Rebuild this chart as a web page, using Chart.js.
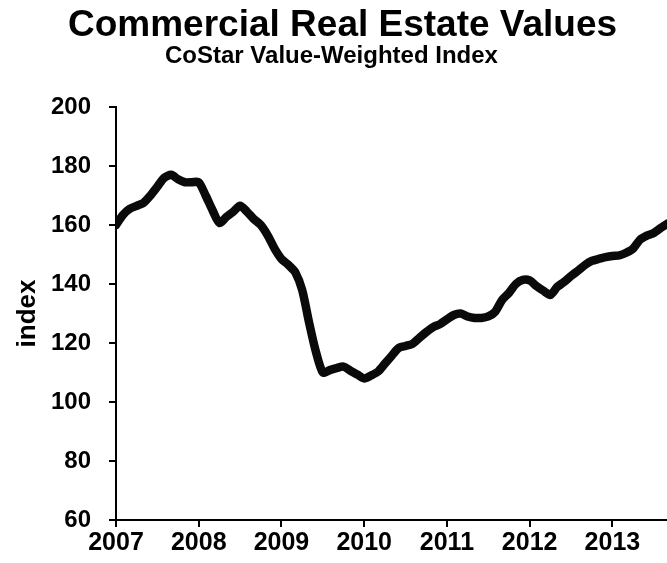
<!DOCTYPE html>
<html>
<head>
<meta charset="utf-8">
<title>Commercial Real Estate Values</title>
<script src="https://cdn.jsdelivr.net/npm/chart.js@4/dist/chart.umd.min.js"></script>
<style>
    html, body { margin: 0; padding: 0; background: #fff; }
    #chart { display: block; }
</style>
</head>
<body>
<canvas id="chart" width="667" height="563"></canvas>
<script>
// Chart text
const chartTitle = 'Commercial Real Estate Values';
const chartSubtitle = 'CoStar Value-Weighted Index';
const yAxisLabel = 'index';

// Monthly index values, starting January 2007
const startYear = 2007;
const indexValues = [
    160, 163.4, 165.5, 166.5, 167.5, 170, 173, 176, 177, 175.5, 174.5, 174.5,   // 2007
    174.5, 170, 165, 160.7, 162.7, 164.5, 166.5, 164.5, 162, 160, 156.5, 152,   // 2008
    148.5, 146.5, 144, 138, 127, 117, 110, 110.8, 111.5, 112, 110.6, 109.3,     // 2009
    108, 109, 110.3, 113, 115.7, 118.3, 119, 119.7, 121.7, 123.7, 125.4, 126.4, // 2010
    128, 129.5, 130, 129, 128.5, 128.5, 129, 130.6, 134.6, 137, 140, 141.4,     // 2011
    141.2, 139.3, 137.7, 136.3, 139, 140.7, 142.7, 144.5, 146.4, 147.8, 148.5, 149.1, // 2012
    149.5, 149.7, 150.6, 152, 155, 156.4, 157.3, 159, 160.5, 162                // 2013
];

// Axis ranges and ticks
const yTicks = { min: 60, max: 200, step: 20 };
const xRange = { min: 2007, max: 2013.66, step: 1 };

document.addEventListener("DOMContentLoaded", () => {
    drawChart();
});

// Title and subtitle drawn above the plot
const titlePlugin = {
    id: 'titleText',
    afterDraw(chart) {
        const ctx = chart.ctx;
        ctx.save();
        ctx.fillStyle = '#000';
        ctx.textAlign = 'left';
        ctx.textBaseline = 'alphabetic';
        ctx.font = 'bold 37px "Liberation Sans", Arial, sans-serif';
        ctx.fillText(chartTitle, 68, 36);
        ctx.font = 'bold 24px "Liberation Sans", Arial, sans-serif';
        ctx.fillText(chartSubtitle, 165, 63);
        ctx.restore();
    }
};

function drawChart() {
    const ctx = document.getElementById('chart').getContext('2d');

    const points = indexValues.map((v, i) => ({ x: startYear + i / 12, y: v }));

    const fontFamily = '"Liberation Sans", Arial, sans-serif';

    window.valueChart = new Chart(ctx, {
        type: 'line',
        data: {
            datasets: [{
                label: yAxisLabel,
                data: points,
                borderColor: '#0a0a0a',
                borderWidth: 8.5,
                borderJoinStyle: 'round',
                borderCapStyle: 'round',
                pointRadius: 0,
                tension: 0.25,
                fill: false
            }]
        },
        options: {
            responsive: false,
            animation: false,
            layout: { padding: { top: 107, right: 0, bottom: 0, left: 0 } },
            plugins: {
                legend: { display: false },
                tooltip: { enabled: false }
            },
            scales: {
                x: {
                    type: 'linear',
                    position: 'bottom',
                    min: xRange.min,
                    max: xRange.max,
                    afterFit: scale => { scale.height = 43; },
                    ticks: {
                        stepSize: xRange.step,
                        includeBounds: false,
                        color: '#000',
                        font: { family: fontFamily, size: 25, weight: 'bold' },
                        padding: 1,
                        maxRotation: 0,
                        callback: v => String(v)
                    },
                    grid: { drawOnChartArea: false, drawTicks: true, tickLength: 7, color: '#000', lineWidth: 2 },
                    border: { display: true, color: '#000', width: 2 }
                },
                y: {
                    min: yTicks.min,
                    max: yTicks.max,
                    afterFit: scale => { scale.width = 116; },
                    ticks: {
                        stepSize: yTicks.step,
                        color: '#000',
                        font: { family: fontFamily, size: 24, weight: 'bold' },
                        padding: 18
                    },
                    title: {
                        display: true,
                        text: yAxisLabel,
                        color: '#000',
                        font: { family: fontFamily, size: 26, weight: 'bold' },
                        padding: { top: 12, bottom: 0 }
                    },
                    grid: { drawOnChartArea: false, drawTicks: true, tickLength: 7, color: '#000', lineWidth: 2 },
                    border: { display: true, color: '#000', width: 2 }
                }
            }
        },
        plugins: [titlePlugin]
    });
}
</script>
</body>
</html>
